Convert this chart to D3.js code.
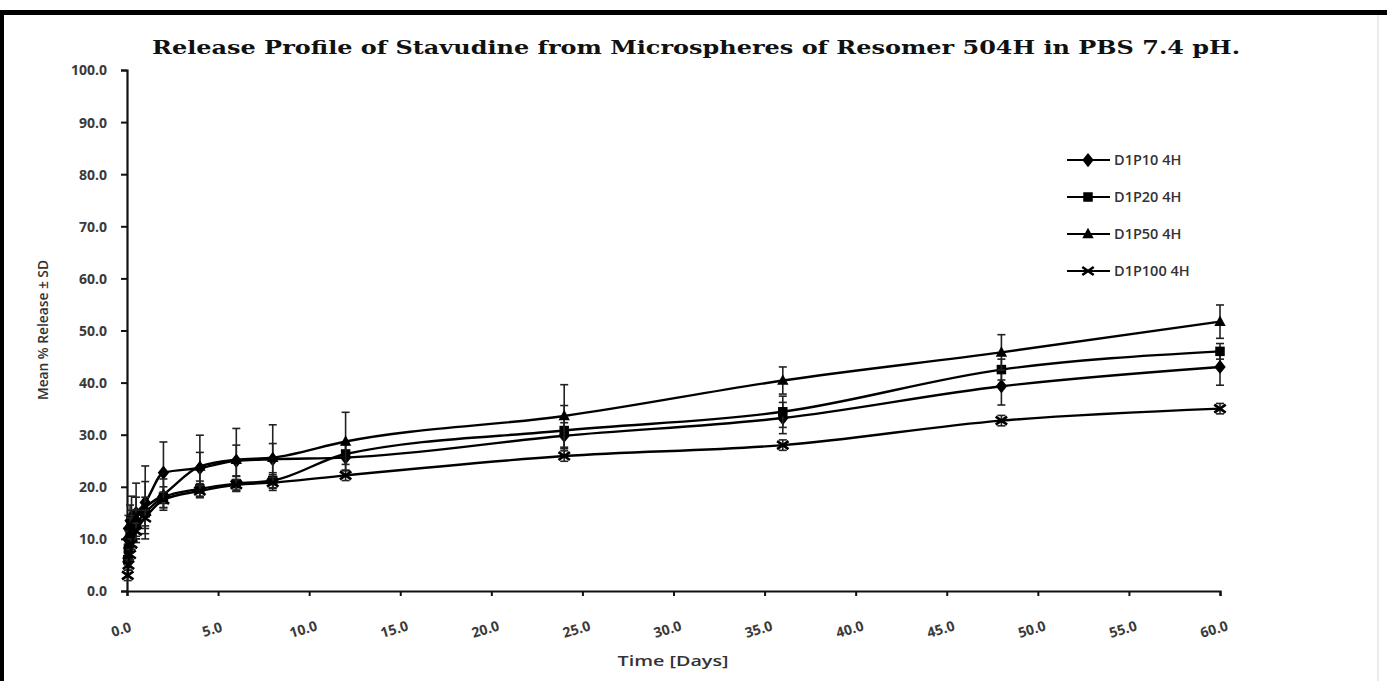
<!DOCTYPE html>
<html><head><meta charset="utf-8">
<script src="https://cdn.jsdelivr.net/npm/d3@7"></script>
<style>
html,body{margin:0;padding:0;background:#fff;}
svg{display:block;}
</style></head>
<body>
<script>
// ---------- DATA ----------
const titleText = "Release Profile of Stavudine from Microspheres of Resomer 504H in PBS 7.4 pH.";
const xLabel = "Time [Days]";
const yLabel = "Mean % Release \u00b1 SD";
const times = [0.04, 0.08, 0.17, 0.25, 0.5, 1, 2, 4, 6, 8, 12, 24, 36, 48, 60];
const seriesNames = ["D1P10 4H", "D1P20 4H", "D1P50 4H", "D1P100 4H"];
const d1p10  = [10.0, 12.0, 13.5, 14.2, 15.0, 17.0, 22.7, 23.6, 25.0, 25.3, 25.6, 29.8, 33.2, 39.3, 43.0];
const d1p20  = [6.0, 8.0, 10.5, 12.0, 13.0, 15.0, 18.0, 19.6, 20.6, 21.2, 26.3, 30.8, 34.4, 42.5, 46.0];
const d1p50  = [7.0, 9.0, 11.0, 12.5, 14.0, 16.0, 18.5, 23.9, 25.2, 25.6, 28.7, 33.6, 40.4, 45.8, 51.7];
const d1p100 = [3.0, 5.0, 7.0, 9.0, 11.5, 14.0, 17.5, 19.2, 20.4, 20.8, 22.2, 25.9, 28.0, 32.7, 35.0];
const sd10  = [2.0, 2.5, 3.0, 4.0, 5.7, 7.0, 5.9, 3.0, 3.0, 3.0, 2.5, 2.5, 3.0, 3.6, 3.5];
const sd20  = [1.5, 2.0, 2.0, 2.5, 2.5, 3.0, 2.0, 1.5, 1.5, 1.5, 2.0, 4.8, 3.0, 2.0, 1.5];
const sd50  = [2.0, 2.5, 3.0, 3.0, 4.0, 5.0, 3.0, 6.0, 6.0, 6.3, 5.6, 6.0, 2.6, 3.4, 3.2];
const sd100 = [1.0, 1.0, 1.0, 1.0, 1.5, 1.5, 1.5, 1.0, 1.0, 1.0, 1.0, 1.0, 1.0, 1.0, 1.0];
const xTicks = [0, 5, 10, 15, 20, 25, 30, 35, 40, 45, 50, 55, 60];
const yTicks = [0, 10, 20, 30, 40, 50, 60, 70, 80, 90, 100];

const seriesValues = [d1p10, d1p20, d1p50, d1p100];
const seriesSD = [sd10, sd20, sd50, sd100];
const markerTypes = ["diamond", "square", "triangle", "x"];

// ---------- LAYOUT ----------
const W = 1387, H = 681;
const svg = d3.select("body").append("svg").attr("width", W).attr("height", H);

// frame
svg.append("rect").attr("x", 0).attr("y", 10).attr("width", W).attr("height", 5).attr("fill", "#000");
svg.append("rect").attr("x", 0).attr("y", 10).attr("width", 4).attr("height", H - 10).attr("fill", "#000");
svg.append("line").attr("x1", 1378).attr("x2", 1378).attr("y1", 15).attr("y2", H)
  .attr("stroke", "#e4e4e4").attr("stroke-width", 1.5);

const x = d3.scaleLinear().domain([0, 60]).range([127, 1220]);
const y = d3.scaleLinear().domain([0, 100]).range([591, 70]);

// title
svg.append("text").attr("x", 152).attr("y", 54)
  .attr("textLength", 1088).attr("lengthAdjust", "spacingAndGlyphs")
  .style("font-family", "'DejaVu Serif', serif").style("font-weight", "bold")
  .style("font-size", "19px").attr("fill", "#111").text(titleText);

// axes
const fmt = d3.format(".1f");
const yAxis = svg.append("g").attr("transform", "translate(127,0)")
  .call(d3.axisLeft(y).tickValues(yTicks).tickFormat(fmt).tickSize(6).tickPadding(14));
const xAxis = svg.append("g").attr("transform", "translate(0,591)")
  .call(d3.axisBottom(x).tickValues(xTicks).tickFormat(fmt).tickSize(5).tickPadding(6));

[yAxis, xAxis].forEach(g => {
  g.select(".domain").attr("stroke", "#111").attr("stroke-width", 2.2);
  g.selectAll(".tick line").attr("stroke", "#111").attr("stroke-width", 2);
  g.selectAll("text").style("font-family", "'Open Sans', sans-serif").style("font-weight", "bold")
    .style("font-size", "14px").attr("fill", "#3a3a3a");
});
yAxis.selectAll("text").attr("dy", "0.35em");
xAxis.selectAll("text")
  .attr("text-anchor", "middle").attr("dy", "0")
  .attr("transform", "translate(-5,43) rotate(-17)").attr("y", 0);

// axis labels
svg.append("text").attr("x", 673).attr("y", 666).attr("text-anchor", "middle")
  .style("font-family", "'Open Sans', sans-serif").style("font-weight", "600").style("font-size", "13.5px").attr("fill", "#333")
  .attr("textLength", 111).attr("lengthAdjust", "spacingAndGlyphs").text(xLabel);
svg.append("text").attr("transform", "translate(48,330) rotate(-90)").attr("text-anchor", "middle")
  .style("font-family", "'Open Sans', sans-serif").style("font-weight", "600").style("font-size", "15px").attr("fill", "#333")
  .attr("textLength", 140).attr("lengthAdjust", "spacingAndGlyphs").text(yLabel);

// markers
function drawMarker(g, type, cx, cy, s) {
  if (type === "diamond") {
    g.append("path").attr("d", `M${cx},${cy - s * 0.75}L${cx + s * 0.6},${cy}L${cx},${cy + s * 0.75}L${cx - s * 0.6},${cy}Z`).attr("fill", "#000");
  } else if (type === "square") {
    g.append("rect").attr("x", cx - s * 0.5).attr("y", cy - s * 0.5).attr("width", s).attr("height", s).attr("fill", "#000");
  } else if (type === "triangle") {
    g.append("path").attr("d", `M${cx},${cy - s * 0.65}L${cx + s * 0.6},${cy + s * 0.45}L${cx - s * 0.6},${cy + s * 0.45}Z`).attr("fill", "#000");
  } else {
    const r = s * 0.6;
    g.append("path").attr("d", `M${cx - r},${cy - r * 0.7}L${cx + r},${cy + r * 0.7}M${cx - r},${cy + r * 0.7}L${cx + r},${cy - r * 0.7}`)
      .attr("stroke", "#000").attr("stroke-width", 2.6).attr("fill", "none");
  }
}

const line = d3.line().x(d => x(d[0])).y(d => y(d[1])).curve(d3.curveMonotoneX);
const plot = svg.append("g");

seriesValues.forEach((vals, si) => {
  const pts = times.map((t, i) => [t, vals[i], seriesSD[si][i]]);
  const g = plot.append("g");
  // error bars
  pts.forEach(p => {
    const px = x(p[0]), top = y(p[1] + p[2]), bot = y(p[1] - p[2]);
    g.append("line").attr("x1", px).attr("x2", px).attr("y1", top).attr("y2", bot)
      .attr("stroke", "#222").attr("stroke-width", 1.6);
    [top, bot].forEach(yy => g.append("line").attr("x1", px - 4).attr("x2", px + 4).attr("y1", yy).attr("y2", yy)
      .attr("stroke", "#222").attr("stroke-width", 1.6));
  });
  g.append("path").datum(pts).attr("d", line).attr("fill", "none").attr("stroke", "#000").attr("stroke-width", 2.4);
  pts.forEach(p => drawMarker(g, markerTypes[si], x(p[0]), y(p[1]), 9.5));
});

// legend
const legendY = d3.scalePoint().domain(seriesNames).range([160, 271]);
seriesNames.forEach((name, i) => {
  const ly = legendY(name);
  const g = svg.append("g");
  g.append("line").attr("x1", 1067).attr("x2", 1110).attr("y1", ly).attr("y2", ly).attr("stroke", "#000").attr("stroke-width", 2.2);
  drawMarker(g, markerTypes[i], 1088, ly, 9.5);
  g.append("text").attr("x", 1114).attr("y", ly).attr("dy", "0.36em")
    .style("font-family", "'Open Sans', sans-serif").style("font-weight", "600").style("font-size", "14.5px").attr("fill", "#333").text(name);
});
</script>
</body></html>
